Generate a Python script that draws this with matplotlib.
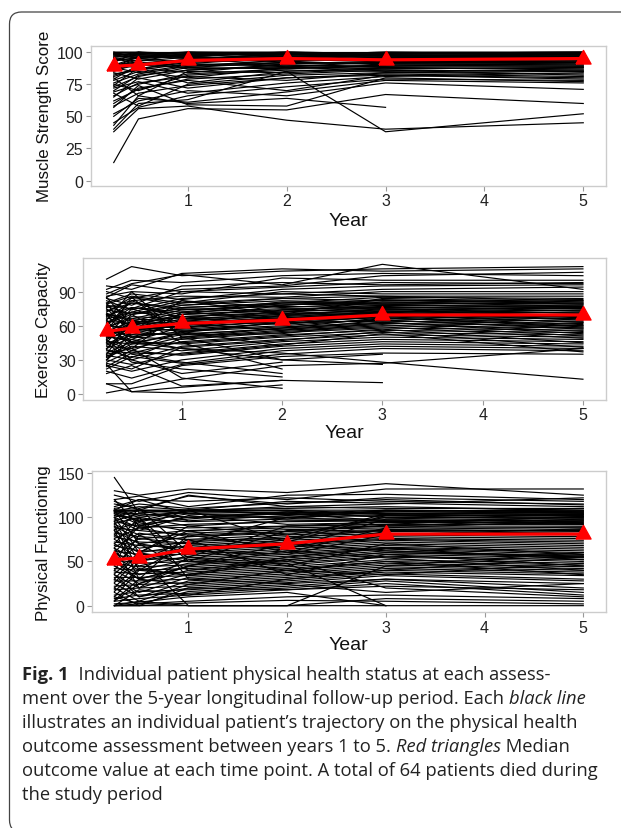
import numpy as np
import matplotlib.pyplot as plt
from matplotlib.patches import FancyBboxPatch
from matplotlib.transforms import IdentityTransform

# assessment times (years)
years = [0.25, 0.5, 1, 2, 3, 5]

# medians (red triangles)
ms_median = [89, 90, 93.5, 95, 94, 95]
ec_median = [55, 58, 62, 65, 69.5, 69.5]
pf_median = [52, 54, 64, 70, 81, 81]

# individual patient trajectories, None = no assessment
ms_lines = [
    [14, 48, 56, 55, 67, 60],
    [38, 56, 58, 47, 40, 45],
    [40, 60, 63, 85, 38, 52],
    [43, 66, 60, 64, 57, None],
    [52, 62, 70, 66, 76, 71],
    [57, 74, 59, 58, 80, 77],
    [60, 72, 78, 70, 82, 79],
    [65, 80, 72, 80, 83, 81],
    [68, 58, 75, 82, 84, 83],
    [72, 77, 68, 76, 81, 84],
    [75, 70, 82, 86, 85, 86],
    [78, 85, 80, 88, 86, 85],
    [80, 66, 85, 84, 87, 88],
    [82, 88, 76, 85, 88, 87],
    [84, 79, 86, 90, 89, 89],
    [86, 90, 88, 87, 90, 90],
    [88, 84, 90, 92, 91, 91],
    [90, 92, 89, 91, 92, 92],
    [92, 87, 93, 94, 93, 93],
    [94, 95, 92, 95, 94, 94],
    [95, 93, 96, 96, 95, 95],
    [96, 97, 95, 97, 96, 96],
    [97, 96, 98, 98, 97, 97],
    [98, 99, 97, 99, 98, 98],
    [99, 98, 100, 100, 99, 99],
    [100, 100, 99, 98, 100, 100],
    [100, 100, 100, 100, 100, 100],
    [87, 91, 94, 93, 90, 89],
    [89, 94, 91, 89, 87, 88],
    [91, 89, 95, 90, 88, 86],
    [93, 96, 97, 92, 91, 90],
    [85, 92, 87, 88, 89, 92],
    [83, 86, 91, 96, 97, 98],
    [79, 90, 93, 97, 98, 97],
    [76, 83, 89, 94, 96, 95],
    [74, 88, 84, 91, 93, 94],
    [70, 82, 86, 89, 92, 93],
    [66, 76, 81, 78, 84, 85],
    [62, 71, 79, 83, 86, 82],
    [58, 68, 74, 80, 82, 80],
    [45, 57, 66, 73, 79, 78],
    [50, 64, 61, 69, 78, 76],
    [97, 100, 98, 99, 97, 96],
    [99, 97, 96, 95, 99, 100],
    [96, 99, 100, 96, 94, 97],
    [98, 95, 99, 97, 96, 99],
    [94, 98, 97, 100, 98, 95],
    [92, 100, 95, 98, 100, 98],
    [90, 96, 100, 99, 97, 99],
    [88, 97, 98, 100, 99, 100],
    [86, 93, 99, 94, 95, 97],
    [95, 91, 94, 99, 93, 92],
    [100, 95, 97, 93, 96, 94],
    [73, 81, 88, 92, None, None],
    [69, 75, 83, 87, 90, None],
    [81, 87, 92, None, None, None],
]

ec_lines = [
    [101, 112, 104, 108, 110, 112],
    [95, 92, 106, 110, 108, 110],
    [88, 97, 105, 96, 114, 92],
    [90, 84, 92, 95, 104, 107],
    [86, 90, 88, 102, 100, 100],
    [84, 78, 95, 98, 96, 98],
    [80, 88, 83, 92, 95, 96],
    [78, 75, 90, 88, 92, 94],
    [76, 82, 86, 85, 90, 90],
    [74, 70, 80, 90, 88, 88],
    [72, 85, 78, 84, 86, 86],
    [70, 66, 76, 80, 85, 84],
    [68, 80, 74, 78, 82, 83],
    [66, 72, 82, 76, 80, 82],
    [64, 62, 72, 81, 79, 80],
    [62, 76, 70, 74, 78, 78],
    [60, 58, 68, 72, 76, 77],
    [58, 68, 66, 70, 74, 76],
    [56, 52, 65, 68, 72, 74],
    [55, 64, 62, 67, 71, 72],
    [54, 56, 60, 66, 70, 70],
    [52, 60, 58, 64, 69, 68],
    [50, 48, 64, 62, 68, 66],
    [48, 58, 56, 60, 66, 64],
    [46, 44, 54, 63, 64, 62],
    [44, 54, 52, 58, 62, 60],
    [42, 40, 50, 56, 60, 58],
    [40, 50, 48, 54, 58, 56],
    [38, 36, 46, 52, 56, 54],
    [36, 46, 44, 50, 54, 52],
    [34, 30, 42, 48, 52, 50],
    [32, 42, 38, 46, 50, 48],
    [30, 26, 36, 44, 48, 46],
    [28, 38, 34, 42, 46, 44],
    [25, 20, 30, 40, 44, 42],
    [22, 33, 27, 38, 42, 40],
    [20, 14, 26, 35, 40, 38],
    [9, 9, 25, 33, 36, 35],
    [1, 5, 13, 25, 27, 40],
    [9, 2, 1, 8, None, None],
    [26, 2, 6, 12, None, None],
    [35, 40, 14, 5, None, None],
    [45, 28, 22, 15, None, None],
    [55, 35, 28, 18, None, None],
    [18, 25, 7, 12, 10, None],
    [30, 48, 40, 36, 28, 13],
    [65, 90, 50, 30, 26, None],
    [82, 74, 84, 88, 86, 82],
    [79, 86, 80, 84, 82, 80],
    [77, 70, 78, 82, 80, 79],
    [73, 80, 76, 79, 78, 76],
    [71, 64, 74, 77, 76, 75],
    [69, 76, 72, 75, 75, 73],
    [67, 60, 70, 73, 74, 71],
    [63, 72, 68, 71, 73, 69],
    [61, 56, 66, 70, 72, 67],
    [59, 66, 64, 69, 71, 65],
    [57, 50, 63, 67, 70, 63],
    [53, 62, 61, 66, 68, 61],
    [51, 46, 59, 64, 67, 59],
    [49, 55, 57, 62, 65, 57],
    [47, 38, 55, 59, 63, 53],
    [43, 52, 53, 57, 61, 51],
    [39, 32, 49, 55, 59, 49],
    [33, 44, 45, 51, 57, 45],
    [27, 22, 41, 47, 55, 41],
    [24, 36, 35, 43, 53, 37],
    [92, 100, 98, 104, 106, 104],
    [85, 96, 90, 94, 98, 97],
    [62, 70, 45, 22, None, None],
    [48, 30, 18, 28, None, None],
    [70, 60, 55, 42, None, None],
    [58, 45, 40, 30, 35, None],
    [75, 55, 82, 70, 84, 81],
    [60, 82, 66, 78, 83, 79],
    [45, 70, 75, 72, 81, 77],
    [85, 60, 70, 80, 79, 75],
    [50, 75, 60, 74, 77, 73],
    [35, 65, 58, 69, 75, 71],
    [65, 40, 72, 66, 73, 69],
    [80, 50, 55, 63, 71, 66],
    [40, 62, 68, 61, 69, 63],
    [55, 85, 50, 58, 67, 60],
    [30, 55, 62, 56, 65, 58],
    [70, 45, 52, 53, 63, 55],
]

pf_lines = [
    [145, 105, 108, 110, 112, 108],
    [130, 125, 132, 128, 138, 125],
    [125, 118, 128, 120, 132, 132],
    [120, 124, 112, 125, 126, 120],
    [115, 110, 124, 115, 122, 118],
    [112, 120, 118, 122, 118, 115],
    [108, 108, 108, 118, 116, 112],
    [108, 108, 107, 112, 110, 110],
    [107, 107, 108, 108, 108, 107],
    [107, 100, 106, 105, 106, 105],
    [106, 95, 104, 103, 104, 104],
    [105, 104, 100, 100, 102, 102],
    [104, 92, 98, 106, 100, 100],
    [102, 98, 95, 98, 98, 98],
    [100, 88, 92, 95, 96, 96],
    [98, 85, 102, 92, 94, 94],
    [95, 90, 88, 90, 92, 92],
    [92, 80, 85, 88, 90, 90],
    [90, 75, 82, 86, 88, 88],
    [88, 85, 80, 84, 86, 85],
    [85, 70, 78, 82, 85, 84],
    [82, 78, 75, 80, 84, 82],
    [80, 65, 72, 78, 82, 80],
    [78, 72, 70, 76, 80, 78],
    [75, 60, 68, 74, 78, 76],
    [72, 68, 66, 72, 76, 74],
    [70, 55, 64, 70, 75, 72],
    [68, 62, 62, 68, 74, 70],
    [65, 50, 60, 66, 72, 68],
    [62, 58, 58, 64, 70, 66],
    [60, 45, 56, 62, 68, 64],
    [58, 52, 54, 60, 66, 62],
    [55, 40, 52, 58, 65, 60],
    [52, 48, 50, 56, 64, 58],
    [50, 35, 48, 54, 62, 56],
    [48, 44, 46, 52, 60, 55],
    [45, 30, 44, 50, 58, 54],
    [42, 40, 42, 48, 56, 52],
    [40, 25, 40, 46, 55, 50],
    [38, 36, 38, 44, 52, 48],
    [35, 20, 36, 42, 50, 46],
    [32, 32, 34, 40, 48, 44],
    [30, 15, 32, 38, 46, 42],
    [28, 28, 30, 36, 44, 40],
    [25, 10, 28, 34, 42, 38],
    [22, 24, 26, 32, 40, 36],
    [20, 5, 24, 30, 38, 34],
    [18, 20, 22, 28, 36, 30],
    [15, 0, 20, 26, 34, 28],
    [12, 16, 18, 24, 15, 25],
    [10, 2, 16, 22, 30, 20],
    [8, 12, 14, 20, 28, 15],
    [5, 8, 12, 18, 25, 12],
    [2, 4, 10, 15, 0, None],
    [0, 0, 0, 0, 8, 5],
    [0, 2, 5, 10, 12, 8],
    [0, 0, 3, 6, 5, 2],
    [0, 5, 0, 0, 0, 0],
    [108, 120, 104, 100, 106, 110],
    [107, 112, 108, 104, 108, 106],
    [108, 102, 106, 108, 104, 103],
    [106, 108, 96, 102, 107, 108],
    [104, 96, 108, 107, 103, 101],
    [100, 108, 104, 98, 108, 105],
    [96, 104, 100, 106, 100, 99],
    [93, 100, 90, 96, 97, 95],
    [86, 94, 84, 90, 95, 97],
    [76, 88, 78, 84, 91, 93],
    [66, 82, 74, 76, 86, 89],
    [56, 76, 70, 65, 84, 86],
    [46, 70, 62, 58, 80, 87],
    [36, 60, 50, 48, 0, None],
    [26, 54, 0, 0, 45, 60],
    [16, 42, 34, 52, 20, 10],
    [6, 30, 24, 40, 35, 48],
    [0, 18, 12, 30, 40, 55],
    [118, 108, 125, 112, 115, 122],
    [110, 115, 110, 116, 120, 114],
    [100, 60, 90, 80, 100, 104],
    [90, 40, 70, 100, 95, 100],
    [80, 110, 60, 75, 104, 106],
    [70, 100, 50, 85, 90, 98],
    [60, 90, 108, 72, 102, 107],
    [50, 30, 80, 64, 98, 103],
    [40, 80, 55, 90, 92, 101],
    [30, 60, 85, 60, 88, 96],
    [20, 50, 65, 45, 70, 58],
    [10, 40, 35, 55, 65, 52],
    [108, 70, 40, 52, 60, 57],
    [95, 50, 75, 35, 58, 45],
    [85, 30, 45, 62, 54, 40],
    [65, 20, 55, 40, 50, 35],
    [45, 100, 30, 25, 30, 25],
    [35, 10, 20, 18, 22, 18],
    [5, 25, 45, 70, 62, 55],
    [120, 90, 100, 104, 96, 92],
]

plt.rcParams['font.family'] = ['Liberation Sans', 'DejaVu Sans']

fig = plt.figure(figsize=(6.21, 8.29), dpi=100)

W, H = 621, 829


def box(left, top, right, bottom):
    return [left / W, 1 - bottom / H, (right - left) / W, (bottom - top) / H]


panels = [
    (ms_lines, ms_median, box(91, 46.7, 606, 186.7), (-4, 105), [0, 25, 50, 75, 100],
     'Muscle Strength Score', 45, 222),
    (ec_lines, ec_median, box(83.5, 258.5, 606, 400.7), (-5, 120), [0, 30, 60, 90],
     'Exercise Capacity', 44, 433),
    (pf_lines, pf_median, box(91.7, 472.3, 606, 613.3), (-7.5, 152), [0, 50, 100, 150],
     'Physical Functioning', 44, 646),
]

tri = [(-1, -0.6), (1, -0.6), (0, 1.2), (-1, -0.6)]

for lines, med, pos, ylim, yticks, ylab, ylab_x, year_y in panels:
    ax = fig.add_axes(pos)
    for tr in lines:
        y = np.array(tr, dtype=float)
        ok = ~np.isnan(y)
        ax.plot(np.array(years)[ok], y[ok], color='black', lw=0.85, zorder=2)
    ax.plot(years, med, color='#ff0000', lw=2.3, zorder=4)
    ax.plot(years, med, ls='none', marker=tri, ms=13, color='#ff0000',
            mec='#ff0000', zorder=5)
    ax.set_xlim(0.02, 5.23)
    ax.set_ylim(*ylim)
    ax.set_xticks([1, 2, 3, 4, 5])
    ax.set_yticks(yticks)
    for s in ax.spines.values():
        s.set_color('#cccccc')
        s.set_linewidth(1.0)
    ax.tick_params(length=3.6, width=0.8, color='#999999', labelcolor='#222222',
                   labelsize=11.5, pad=2)
    for lab in ax.get_xticklabels() + ax.get_yticklabels():
        lab.set_family(['Liberation Sans Narrow', 'Liberation Sans', 'DejaVu Sans'])
    cy = pos[1] + pos[3] / 2
    fig.text(ylab_x / W, cy, ylab, rotation=90, ha='center', va='center',
             fontsize=12.2, color='#111111')
    fig.text((pos[0] + pos[2] / 2), 1 - year_y / H, 'Year', ha='center', va='center',
             fontsize=14, color='#111111')

# caption, pieces chained left to right on each line
cap_font = ['Open Sans', 'DejaVu Sans']
cap_size = 13.2
cap_lines = [
    [('Fig. 1', 'normal', 'bold'), ('  Individual patient physical health status at each assess-', 'normal', 'normal')],
    [('ment over the 5-year longitudinal follow-up period. Each ', 'normal', 'normal'), ('black line', 'italic', 'normal')],
    [('illustrates an individual patient\u2019s trajectory on the physical health', 'normal', 'normal')],
    [('outcome assessment between years 1 to 5. ', 'normal', 'normal'), ('Red triangles', 'italic', 'normal'), (' Median', 'normal', 'normal')],
    [('outcome value at each time point. A total of 64 patients died during', 'normal', 'normal')],
    [('the study period', 'normal', 'normal')],
]
line_y = [675, 699, 723, 747, 771, 795]
for parts, yy in zip(cap_lines, line_y):
    last = None
    for txt, style, weight in parts:
        kw = dict(family=cap_font, fontsize=cap_size, style=style, weight=weight, color='#222222')
        if last is None:
            last = fig.text(22 / W, 1 - yy / H, txt, ha='left', va='center', **kw)
        else:
            last = fig.axes[0].annotate(txt, xy=(1, 0), xycoords=last, ha='left', va='bottom',
                                        annotation_clip=False, **kw)

# rounded frame
frame = FancyBboxPatch((9.5, -4), 700, 829 - 13 + 4, boxstyle='round,pad=0,rounding_size=12',
                       transform=IdentityTransform(), fill=False, ec='#444444', lw=0.9)
fig.add_artist(frame)

fig.savefig('out.png', dpi=100)
